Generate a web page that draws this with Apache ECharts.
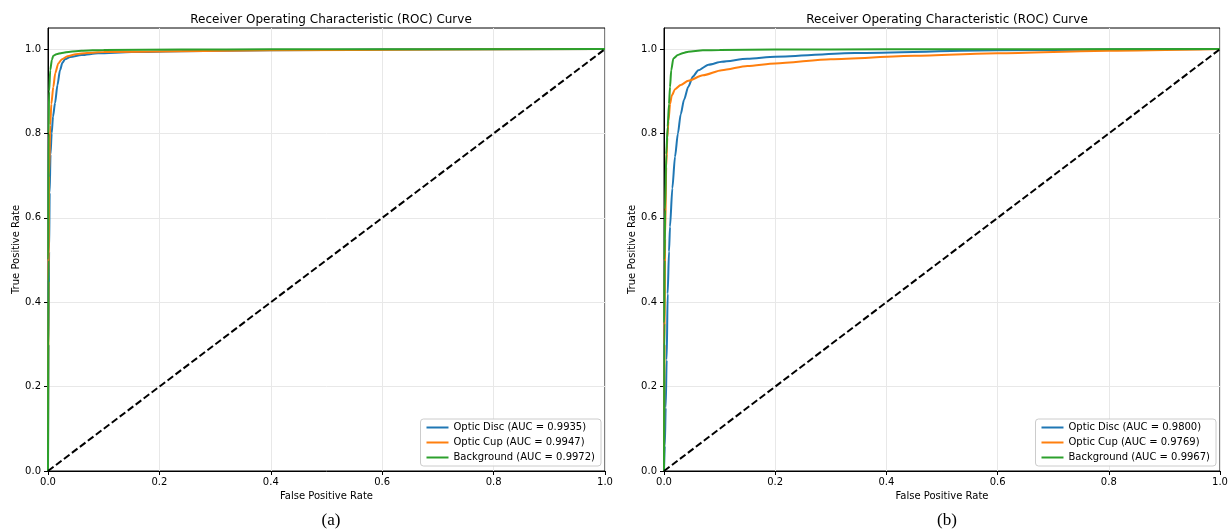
<!DOCTYPE html>
<html>
<head>
<meta charset="utf-8">
<script src="https://cdn.jsdelivr.net/npm/echarts@6/dist/echarts.min.js"></script>
<style>
  html, body { margin: 0; padding: 0; background: #fff; }
  #chart { width: 1232px; height: 531px; }
</style>
</head>
<body>
<div id="chart"></div>
<script>
// panel (a)
var discFprA = [0, 0.001, 0.002, 0.003, 0.0045, 0.0066, 0.009, 0.0126, 0.017, 0.0215, 0.026, 0.0305, 0.04, 0.06, 0.09, 0.15, 0.24, 0.4, 0.6, 1];
var discTprA = [0, 0.3, 0.52, 0.66, 0.75, 0.80, 0.84, 0.872, 0.915, 0.95, 0.968, 0.976, 0.981, 0.986, 0.99, 0.993, 0.995, 0.997, 0.999, 1];
var cupFprA = [0, 0.001, 0.002, 0.004, 0.006, 0.0095, 0.013, 0.0185, 0.025, 0.035, 0.05, 0.07, 0.1, 0.24, 0.4, 0.7, 1];
var cupTprA = [0, 0.45, 0.7, 0.82, 0.87, 0.91, 0.943, 0.966, 0.976, 0.983, 0.988, 0.991, 0.993, 0.995, 0.997, 0.999, 1];
var bgFprA = [0, 0.0005, 0.001, 0.002, 0.004, 0.007, 0.0095, 0.015, 0.025, 0.04, 0.06, 0.1, 0.24, 0.4, 1];
var bgTprA = [0, 0.5, 0.8, 0.9, 0.95, 0.975, 0.984, 0.988, 0.991, 0.994, 0.996, 0.998, 0.999, 0.9995, 1];

// panel (b)
var discFprB = [0, 0.0015, 0.003, 0.0048, 0.0066, 0.009, 0.0108, 0.015, 0.0198, 0.025, 0.03, 0.036, 0.0437, 0.052, 0.0617, 0.08, 0.104, 0.15, 0.2, 0.343, 0.6, 0.8, 1];
var discTprB = [0, 0.06, 0.15, 0.263, 0.42, 0.52, 0.579, 0.67, 0.745, 0.8, 0.845, 0.88, 0.911, 0.935, 0.95, 0.963, 0.97, 0.977, 0.982, 0.991, 0.997, 0.999, 1];
var cupFprB = [0, 0.001, 0.002, 0.004, 0.006, 0.008, 0.011, 0.014, 0.02, 0.03, 0.0437, 0.07, 0.104, 0.15, 0.2, 0.3, 0.45, 0.6, 0.8, 1];
var cupTprB = [0, 0.3, 0.55, 0.72, 0.79, 0.83, 0.87, 0.89, 0.905, 0.915, 0.925, 0.938, 0.95, 0.96, 0.966, 0.976, 0.984, 0.99, 0.996, 1];
var bgFprB = [0, 0.0005, 0.001, 0.002, 0.004, 0.0066, 0.009, 0.0108, 0.013, 0.0168, 0.025, 0.035, 0.0437, 0.07, 0.1, 0.2, 0.4, 1];
var bgTprB = [0, 0.35, 0.5, 0.62, 0.75, 0.816, 0.87, 0.91, 0.95, 0.978, 0.986, 0.991, 0.994, 0.997, 0.998, 0.999, 0.9995, 1];

var namesA = ['Optic Disc (AUC = 0.9935)', 'Optic Cup (AUC = 0.9947)', 'Background (AUC = 0.9972)'];
var namesB = ['Optic Disc (AUC = 0.9800)', 'Optic Cup (AUC = 0.9769)', 'Background (AUC = 0.9967)'];
var colors = ['#1f77b4', '#ff7f0e', '#2ca02c'];
var diagX = [0, 1];
var diagY = [0, 1];
var yTicks = [0, 0.2, 0.4, 0.6, 0.8, 1.0];

var font = 'DejaVu Sans';

function pairs(xs, ys) {
    return xs.map(function (x, i) { return [x, ys[i]]; });
}

function rocSeries(name, xs, ys, color, idx) {
    return {
        name: name,
        type: 'line',
        xAxisIndex: idx,
        yAxisIndex: idx,
        data: pairs(xs, ys),
        symbol: 'none',
        smooth: 0.25,
        smoothMonotone: 'x',
        lineStyle: { color: color, width: 2 },
        itemStyle: { color: color },
        z: 3
    };
}

function diagSeries(idx) {
    return {
        type: 'line',
        xAxisIndex: idx,
        yAxisIndex: idx,
        data: pairs(diagX, diagY),
        symbol: 'none',
        silent: true,
        lineStyle: { color: '#000', width: 2, type: [7, 3] },
        z: 4
    };
}

function xAxisFor(idx) {
    return {
        type: 'value',
        gridIndex: idx,
        min: 0,
        max: 1,
        interval: 0.2,
        name: 'False Positive Rate',
        nameLocation: 'middle',
        nameGap: 20,
        nameTextStyle: { fontFamily: font, fontSize: 10, color: '#000' },
        axisLine: { show: true, onZero: false, lineStyle: { color: '#000', width: 1 } },
        axisTick: { show: true, length: 4, lineStyle: { color: '#000' } },
        axisLabel: {
            fontFamily: font, fontSize: 10, color: '#000', margin: 6,
            formatter: function (v) { return v.toFixed(1); }
        },
        splitLine: { show: true, lineStyle: { color: '#e8e8e8', width: 1 } }
    };
}

function yAxisFor(idx) {
    return {
        type: 'value',
        gridIndex: idx,
        min: 0,
        max: 1.05,
        interval: 0.2,
        name: 'True Positive Rate',
        nameLocation: 'middle',
        nameGap: 26,
        nameTextStyle: { fontFamily: font, fontSize: 10, color: '#000' },
        axisLine: { show: true, onZero: false, lineStyle: { color: '#000', width: 1 } },
        axisTick: { show: true, length: 4, lineStyle: { color: '#000' }, customValues: yTicks },
        axisLabel: {
            fontFamily: font, fontSize: 10, color: '#000', margin: 7,
            customValues: yTicks,
            formatter: function (v) { return v > 1.01 ? '' : v.toFixed(1); }
        },
        splitLine: { show: true, lineStyle: { color: '#e8e8e8', width: 1 } }
    };
}

function legendFor(names, right) {
    return {
        data: names,
        orient: 'vertical',
        right: right,
        bottom: 65,
        icon: 'rect',
        itemWidth: 22,
        itemHeight: 2,
        itemGap: 4,
        padding: [3, 6, 3, 6],
        backgroundColor: 'rgba(255,255,255,0.85)',
        borderColor: '#cccccc',
        borderWidth: 1,
        borderRadius: 3,
        textStyle: { fontFamily: font, fontSize: 10, color: '#000', lineHeight: 11 }
    };
}

var chart = echarts.init(document.getElementById('chart'), null, { renderer: 'canvas' });

var option = {
    backgroundColor: '#fff',
    animation: false,
    title: [
        { text: 'Receiver Operating Characteristic (ROC) Curve', left: 326, top: 9, textAlign: 'center',
          textStyle: { fontFamily: font, fontSize: 12, fontWeight: 'normal', color: '#000' } },
        { text: 'Receiver Operating Characteristic (ROC) Curve', left: 942, top: 9, textAlign: 'center',
          textStyle: { fontFamily: font, fontSize: 12, fontWeight: 'normal', color: '#000' } },
        { text: '(a)', left: 326, top: 507, textAlign: 'center',
          textStyle: { fontFamily: 'Liberation Serif', fontSize: 17, fontWeight: 'normal', color: '#000' } },
        { text: '(b)', left: 942, top: 507, textAlign: 'center',
          textStyle: { fontFamily: 'Liberation Serif', fontSize: 17, fontWeight: 'normal', color: '#000' } }
    ],
    legend: [legendFor(namesA, 631), legendFor(namesB, 16)],
    grid: [
        { left: 48, top: 28, width: 557, height: 443, show: true, borderColor: '#000', borderWidth: 1, backgroundColor: 'transparent' },
        { left: 664, top: 28, width: 556, height: 443, show: true, borderColor: '#000', borderWidth: 1, backgroundColor: 'transparent' }
    ],
    xAxis: [xAxisFor(0), xAxisFor(1)],
    yAxis: [yAxisFor(0), yAxisFor(1)],
    series: [
        rocSeries(namesA[0], discFprA, discTprA, colors[0], 0),
        rocSeries(namesA[1], cupFprA, cupTprA, colors[1], 0),
        rocSeries(namesA[2], bgFprA, bgTprA, colors[2], 0),
        diagSeries(0),
        rocSeries(namesB[0], discFprB, discTprB, colors[0], 1),
        rocSeries(namesB[1], cupFprB, cupTprB, colors[1], 1),
        rocSeries(namesB[2], bgFprB, bgTprB, colors[2], 1),
        diagSeries(1)
    ]
};

chart.setOption(option);
</script>
</body>
</html>
